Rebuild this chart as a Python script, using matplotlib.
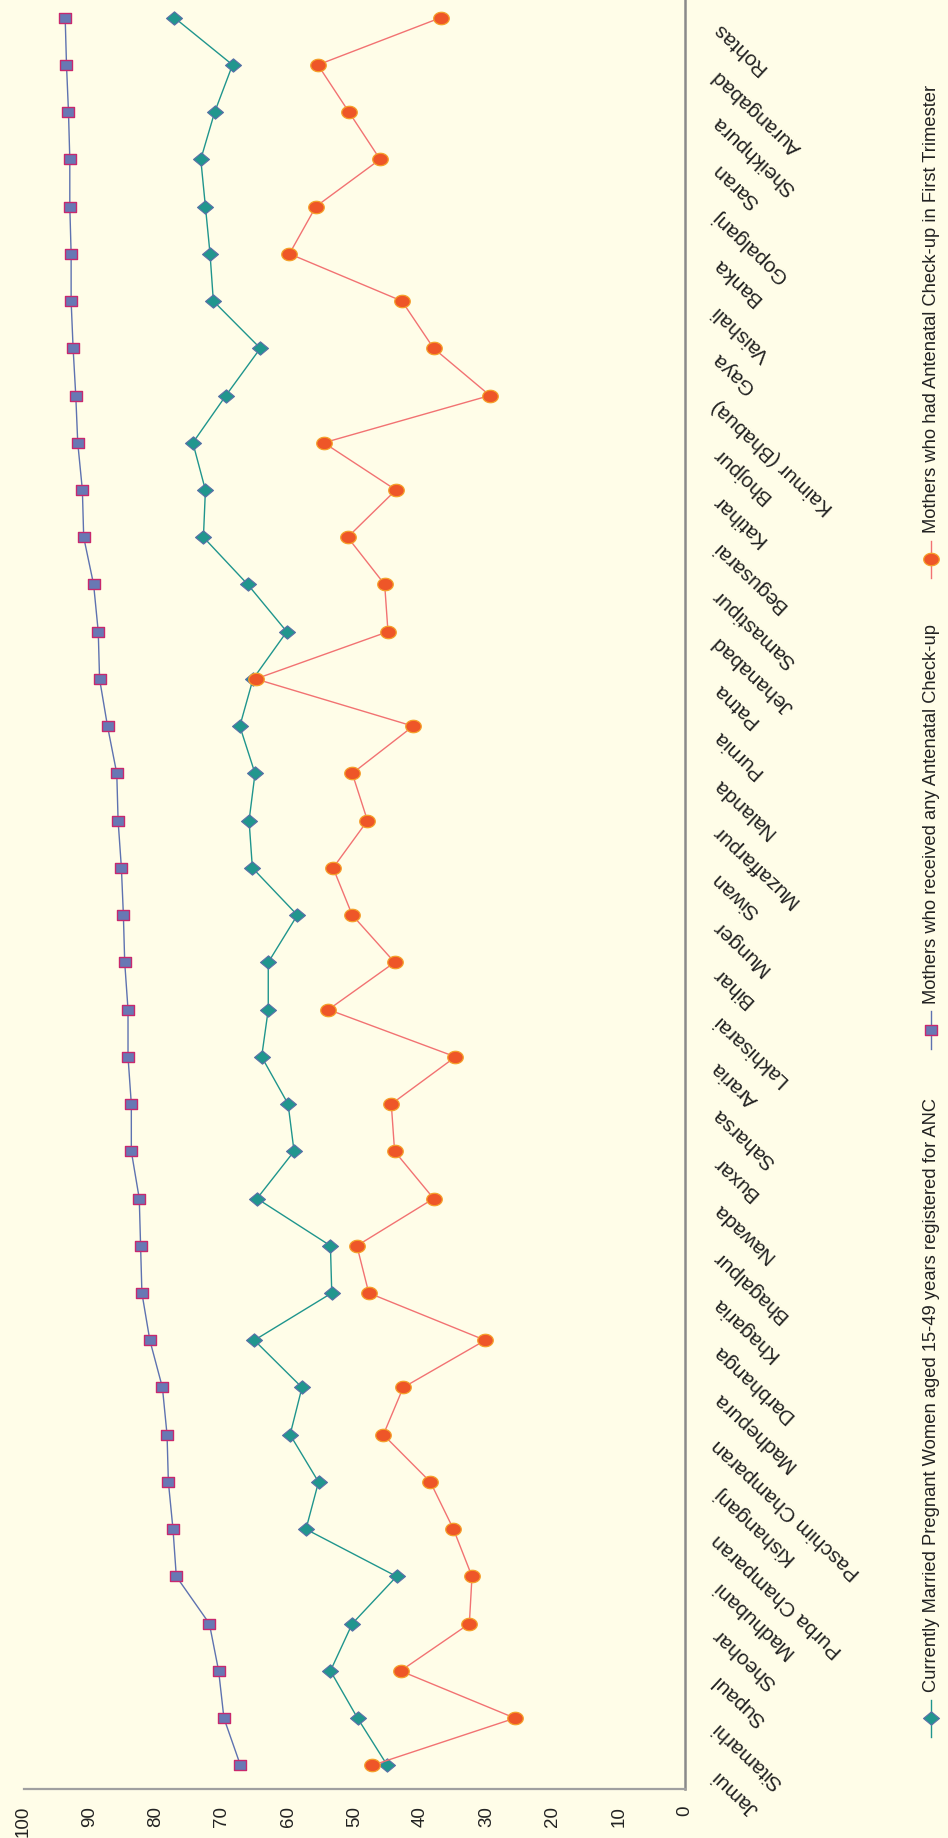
import numpy as np
import matplotlib
matplotlib.use("Agg")
import matplotlib.pyplot as plt
from matplotlib.path import Path
from matplotlib.lines import Line2D
import matplotlib.transforms as mtransforms

# ---- data -------------------------------------------------------------
districts = [
    "Jamui", "Sitamarhi", "Supaul", "Sheohar", "Madhubani", "Purba Champaran",
    "Kishanganj", "Paschim Champaran", "Madhepura", "Darbhanga", "Khagaria",
    "Bhagalpur", "Nawada", "Buxar", "Saharsa", "Araria", "Lakhisarai", "Bihar",
    "Munger", "Siwan", "Muzaffarpur", "Nalanda", "Purnia", "Patna", "Jehanabad",
    "Samastipur", "Begusarai", "Katihar", "Bhojpur", "Kaimur (Bhabua)", "Gaya",
    "Vaishali", "Banka", "Gopalganj", "Saran", "Sheikhpura", "Aurangabad", "Rohtas",
]

registered_anc = [
    45.0, 49.5, 53.6, 50.3, 43.6, 57.3, 55.4, 59.7, 57.9, 65.1, 53.4, 53.6, 64.7,
    59.1, 60.0, 64.0, 63.0, 63.0, 58.6, 65.4, 65.9, 65.0, 67.3, 65.3, 60.2, 66.1,
    72.8, 72.5, 74.4, 69.4, 64.2, 71.3, 71.8, 72.5, 73.2, 71.1, 68.4, 77.2,
]

any_anc = [
    67.2, 69.7, 70.5, 71.9, 76.9, 77.4, 78.1, 78.3, 79.0, 80.9, 82.1, 82.3, 82.5,
    83.7, 83.7, 84.2, 84.2, 84.7, 84.9, 85.2, 85.7, 85.9, 87.3, 88.5, 88.7, 89.4,
    90.9, 91.1, 91.8, 92.1, 92.5, 92.8, 92.8, 93.0, 93.0, 93.2, 93.5, 93.7,
]

first_trimester = [
    47.3, 25.7, 43.0, 32.6, 32.2, 35.0, 38.5, 45.6, 42.6, 30.2, 47.8, 49.6, 38.0,
    43.9, 44.4, 34.7, 53.9, 43.9, 50.3, 53.2, 48.0, 50.3, 41.1, 64.9, 44.9, 45.4,
    51.0, 43.7, 54.6, 29.5, 38.0, 42.8, 59.8, 55.8, 46.1, 50.8, 55.5, 36.9,
]

value_ticks = [0, 10, 20, 30, 40, 50, 60, 70, 80, 90, 100]

series_labels = [
    "Currently Married Pregnant Women aged 15-49 years registered for ANC",
    "Mothers who received any Antenatal Check-up",
    "Mothers who had Antenatal Check-up in First Trimester",
]

# ---- styling ----------------------------------------------------------
BG = "#FFFDE8"
W, H = 948, 1838
FONT = ["Liberation Sans", "DejaVu Sans"]


def stretched_marker(kind):
    """Marker paths that are slightly wider than tall."""
    if kind == "square":
        verts = [(-0.6, -0.5), (0.6, -0.5), (0.6, 0.5), (-0.6, 0.5), (-0.6, -0.5)]
    elif kind == "diamond":
        verts = [(-0.6, 0.0), (0.0, 0.5), (0.6, 0.0), (0.0, -0.5), (-0.6, 0.0)]
    else:
        t = np.linspace(0, 2 * np.pi, 41)
        verts = list(zip(0.6 * np.cos(t), 0.48 * np.sin(t)))
    codes = [Path.MOVETO] + [Path.LINETO] * (len(verts) - 2) + [Path.CLOSEPOLY]
    return Path(verts, codes)


series_style = [
    dict(color="#1F958D", marker=stretched_marker("diamond"), markersize=11.5,
         markerfacecolor="#21968E", markeredgecolor="#5B6FA8", markeredgewidth=0.8,
         linewidth=1.0),
    dict(color="#5E72B0", marker=stretched_marker("square"), markersize=8.8,
         markerfacecolor="#6878B4", markeredgecolor="#C8286E", markeredgewidth=1.0,
         linewidth=1.0),
    dict(color="#F27272", marker=stretched_marker("circle"), markersize=11.2,
         markerfacecolor="#EE5628", markeredgecolor="#F5A02A", markeredgewidth=0.9,
         linewidth=1.0),
]

fig = plt.figure(figsize=(W / 100, H / 100), dpi=100, facecolor=BG)

# plot area: value axis runs right-to-left, districts bottom-to-top
left_px, right_px, bottom_px, top_px = 23.5, 685.0, 1789.0, -6.0
ax = fig.add_axes([left_px / W, (H - bottom_px) / H,
                   (right_px - left_px) / W, (bottom_px - top_px) / H])
ax.set_facecolor(BG)

pos = np.arange(len(districts))
for values, style in zip([registered_anc, any_anc, first_trimester], series_style):
    ax.plot(values, pos, clip_on=False, **style)

ax.set_xlim(100, 0)
ax.set_ylim(-0.5, len(districts) - 0.5)

for side in ("top", "left"):
    ax.spines[side].set_visible(False)
ax.spines["right"].set_color("#8A8A8A")
ax.spines["right"].set_linewidth(1.8)
ax.spines["bottom"].set_color("#A0A0A0")
ax.spines["bottom"].set_linewidth(1.6)

# value tick labels under the bottom spine, turned to read upward
ax.set_xticks(value_ticks)
ax.set_xticklabels([str(v) for v in value_ticks])
ax.tick_params(axis="x", length=0, pad=12, colors="#222222")
for lbl in ax.get_xticklabels():
    lbl.set_rotation(90)
    lbl.set_rotation_mode("anchor")
    lbl.set_horizontalalignment("right")
    lbl.set_verticalalignment("center")
    lbl.set_fontsize(13.5)
    lbl.set_family(FONT)

# district names to the right of the category axis, slanted
ax.set_yticks([])
offset = mtransforms.ScaledTranslation(30 / 100, -8 / 100, fig.dpi_scale_trans)
label_tf = ax.get_yaxis_transform() + offset
for i, name in enumerate(districts):
    ax.text(1.0, i, name, transform=label_tf, rotation=137,
            rotation_mode="anchor", ha="right", va="center",
            fontsize=15, family=FONT, color="#222222", clip_on=False)

# legend, stacked bottom-to-top along the right edge
legend_x = 931
legend_marker_y = [1718, 1030, 559]
for label, style, my in zip(series_labels, series_style, legend_marker_y):
    fx = legend_x / W
    fig.add_artist(Line2D([fx, fx], [1 - (my + 18.5) / H, 1 - (my - 18.5) / H],
                          transform=fig.transFigure, color=style["color"],
                          linewidth=style["linewidth"]))
    fig.add_artist(Line2D([fx], [1 - my / H], transform=fig.transFigure,
                          linestyle="none", marker=style["marker"],
                          markersize=style["markersize"],
                          markerfacecolor=style["markerfacecolor"],
                          markeredgecolor=style["markeredgecolor"],
                          markeredgewidth=style["markeredgewidth"]))
    fig.text(fx, 1 - (my - 26) / H, label, rotation=90, rotation_mode="anchor",
             ha="left", va="center", fontsize=13.2, family=FONT, color="#222222")

fig.savefig("out.png", dpi=100, facecolor=BG)
